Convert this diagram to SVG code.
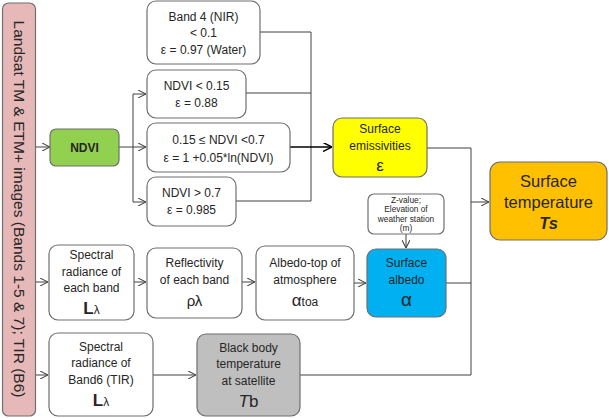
<svg xmlns="http://www.w3.org/2000/svg" width="609" height="418" viewBox="0 0 609 418">
<style>
text{font-family:"Liberation Sans",Arial,sans-serif;fill:#262626;text-anchor:middle}
.t{font-size:12px}
.s{font-size:8.3px}
.box{stroke:#6f6f6f;stroke-width:1.2}
.w{fill:#fff}
.ln{fill:none;stroke:#404040;stroke-width:1}
</style>
<defs>
<marker id="a" viewBox="0 0 10 10" refX="10" refY="5" markerWidth="8" markerHeight="8" markerUnits="userSpaceOnUse" orient="auto">
<path d="M0,0 L10,5 L0,10" fill="none" stroke="#404040" stroke-width="1.3"/>
</marker>
<marker id="ab" viewBox="0 0 10 10" refX="10" refY="5" markerWidth="9" markerHeight="9" markerUnits="userSpaceOnUse" orient="auto">
<path d="M0,0 L10,5 L0,10" fill="none" stroke="#000" stroke-width="1.6"/>
</marker>
</defs>
<rect width="609" height="418" fill="#fff"/>

<g id="connectors">
<path class="ln" d="M36,147 H50" marker-end="url(#a)"/>
<path class="ln" d="M119,147 H146" marker-end="url(#a)"/>
<path class="ln" d="M133,94 V202"/>
<path class="ln" d="M133,94 H146" marker-end="url(#a)"/>
<path class="ln" d="M133,202 H146" marker-end="url(#a)"/>
<path class="ln" d="M260,32 H311 V201 H236"/>
<path class="ln" d="M246,93 H311"/>
<path d="M290,147 H332" fill="none" stroke="#000" stroke-width="1.6" marker-end="url(#ab)"/>
<path class="ln" d="M427,148 H471 V375 H300"/>
<path class="ln" d="M471,202 H489" marker-end="url(#a)"/>
<path class="ln" d="M446,283 H471"/>
<path class="ln" d="M406,234 V248" marker-end="url(#a)"/>
<path class="ln" d="M36,282 H48" marker-end="url(#a)"/>
<path class="ln" d="M134,282 H146" marker-end="url(#a)"/>
<path class="ln" d="M242,282 H255" marker-end="url(#a)"/>
<path class="ln" d="M354,283 H366" marker-end="url(#a)"/>
<path class="ln" d="M36,375 H48" marker-end="url(#a)"/>
<path class="ln" d="M153,375 H196" marker-end="url(#a)"/>
</g>

<g id="landsat">
<rect class="box" x="2.5" y="3" width="33" height="413" rx="6" fill="#e6b9b8"/>
<text transform="translate(19,209) rotate(90)" y="5" font-size="15" fill="#333" textLength="377" lengthAdjust="spacingAndGlyphs">Landsat TM &amp; ETM+ images (Bands 1-5 &amp; 7); TIR (B6)</text>
</g>

<g id="ndvi">
<rect class="box" x="50" y="129" width="69" height="37" rx="6" fill="#92d050"/>
<text class="t" x="84.5" y="152" font-weight="bold" fill="#1a1a1a">NDVI</text>
</g>

<g id="band4">
<rect class="box w" x="147" y="1" width="113" height="63" rx="9"/>
<text class="t" x="203.5" y="21">Band 4 (NIR)</text>
<text class="t" x="203.5" y="37">&lt; 0.1</text>
<text class="t" x="203.5" y="54">ε = 0.97 (Water)</text>
</g>

<g id="ndvi-low">
<rect class="box w" x="147" y="70" width="99" height="48" rx="9"/>
<text class="t" x="196.5" y="90">NDVI &lt; 0.15</text>
<text class="t" x="196.5" y="107">ε = 0.88</text>
</g>

<g id="ndvi-mid">
<rect class="box w" x="147" y="123" width="143" height="49" rx="9"/>
<text class="t" x="218.5" y="144">0.15 ≤ NDVI &lt;0.7</text>
<text class="t" x="218.5" y="162">ε = 1 +0.05*ln(NDVI)</text>
</g>

<g id="ndvi-high">
<rect class="box w" x="147" y="177" width="89" height="49" rx="9"/>
<text class="t" x="191.5" y="197">NDVI &gt; 0.7</text>
<text class="t" x="191.5" y="214">ε = 0.985</text>
</g>

<g id="emissivities">
<rect class="box" x="333" y="118" width="94" height="59" rx="9" fill="#ffff00"/>
<text class="t" x="380" y="133">Surface</text>
<text class="t" x="380" y="150">emissivities</text>
<text x="380" y="171" font-size="17">ε</text>
</g>

<g id="ts">
<rect class="box" x="490" y="162" width="117" height="78" rx="10" fill="#ffc000"/>
<text x="548.5" y="187" font-size="16.5">Surface</text>
<text x="548.5" y="208" font-size="16.5">temperature</text>
<text x="548.5" y="229" font-size="16.5" font-weight="bold" font-style="italic">Ts</text>
</g>

<g id="zvalue">
<rect class="box w" x="368" y="194" width="76" height="40" rx="6" stroke-width="1"/>
<text class="s" x="406" y="203">Z-value;</text>
<text class="s" x="406" y="212">Elevation of</text>
<text class="s" x="406" y="221.5">weather station</text>
<text class="s" x="406" y="231">(m)</text>
</g>

<g id="albedo">
<rect class="box" x="367" y="249" width="79" height="68" rx="9" fill="#00b0f0"/>
<text class="t" x="406.5" y="267">Surface</text>
<text class="t" x="406.5" y="284">albedo</text>
<text x="406.5" y="306" font-size="19">α</text>
</g>

<g id="radiance">
<rect class="box w" x="49" y="245" width="85" height="75" rx="9"/>
<text class="t" x="91.5" y="259">Spectral</text>
<text class="t" x="91.5" y="276">radiance of</text>
<text class="t" x="91.5" y="292">each band</text>
<text x="91.5" y="314"><tspan font-size="17" font-weight="bold">L</tspan><tspan font-size="12">λ</tspan></text>
</g>

<g id="reflectivity">
<rect class="box w" x="147" y="248" width="95" height="70" rx="9"/>
<text class="t" x="194.5" y="267">Reflectivity</text>
<text class="t" x="194.5" y="284">of each band</text>
<text x="194.5" y="306" font-size="15">ρλ</text>
</g>

<g id="albedo-toa">
<rect class="box w" x="256" y="246" width="98" height="74" rx="9"/>
<text class="t" x="305" y="267">Albedo-top of</text>
<text class="t" x="305" y="284">atmosphere</text>
<text x="305" y="306"><tspan font-size="17">α</tspan><tspan font-size="12">toa</tspan></text>
</g>

<g id="radiance-b6">
<rect class="box w" x="49" y="333" width="104" height="83" rx="9"/>
<text class="t" x="101" y="351">Spectral</text>
<text class="t" x="101" y="367">radiance of</text>
<text class="t" x="101" y="384">Band6 (TIR)</text>
<text x="101" y="406"><tspan font-size="17" font-weight="bold">L</tspan><tspan font-size="12">λ</tspan></text>
</g>

<g id="blackbody">
<rect class="box" x="197" y="334" width="103" height="82" rx="9" fill="#bfbfbf"/>
<text class="t" x="248.5" y="352">Black body</text>
<text class="t" x="248.5" y="368">temperature</text>
<text class="t" x="248.5" y="385">at satellite</text>
<text x="248.5" y="407" font-size="17"><tspan font-style="italic">T</tspan>b</text>
</g>
</svg>
